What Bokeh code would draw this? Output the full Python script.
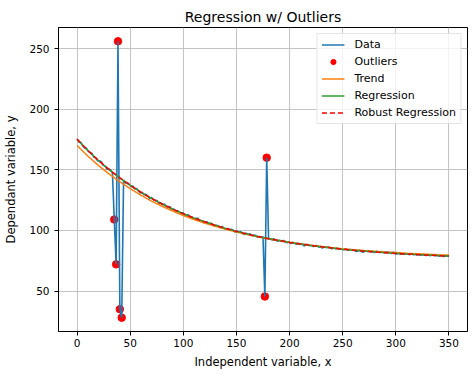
import numpy as np
from bokeh.plotting import figure
from bokeh.models import Legend, LegendItem, FixedTicker, Range1d
from bokeh.embed import file_html
from bokeh.resources import INLINE

# ---- data ----
x_data = np.linspace(0, 350, 201)
y_data = [
    175.3, 172.9, 172.5, 169.9,
    168.0, 167.9, 165.2, 164.4,
    163.5, 160.4, 159.9, 157.4,
    157.4, 156.7, 153.8, 153.2,
    150.5, 150.7, 150.0, 147.4,
    109.0, 72.0, 256.0, 35.0,
    28.0, 141.6, 139.1, 139.3,
    138.2, 136.1, 136.7, 134.4,
    134.5, 132.5, 130.9, 131.5,
    129.4, 129.7, 128.5, 126.3,
    127.3, 125.2, 124.9, 124.7,
    122.3, 122.8, 121.2, 121.9,
    119.4, 119.6, 119.5, 117.1,
    117.6, 115.4, 116.2, 115.3,
    114.1, 114.6, 112.6, 113.0,
    112.6, 110.8, 110.8, 109.2,
    109.9, 110.0, 107.7, 108.1,
    106.4, 107.1, 106.9, 105.4,
    106.1, 104.6, 103.5, 104.3,
    103.5, 102.2, 103.3, 101.7,
    100.9, 101.7, 100.5, 101.0,
    100.1, 98.5, 99.5, 98.5,
    99.0, 97.5, 96.5, 97.7,
    96.6, 97.3, 95.6, 96.0,
    95.9, 94.3, 95.1, 94.1,
    94.7, 45.5, 160.0, 92.8,
    93.2, 92.1, 93.1, 91.8,
    91.1, 91.9, 90.9, 91.6,
    90.9, 89.8, 90.7, 89.0,
    90.3, 89.3, 88.5, 89.4,
    88.4, 89.3, 87.1, 88.3,
    88.4, 87.4, 87.7, 86.7,
    87.4, 87.5, 86.2, 86.7,
    85.4, 86.6, 85.8, 86.3,
    85.8, 84.9, 85.6, 84.9,
    85.4, 84.5, 84.8, 84.1,
    84.2, 84.5, 83.7, 84.4,
    83.5, 83.8, 82.7, 82.9,
    83.6, 82.5, 82.1, 83.2,
    82.5, 83.1, 82.2, 82.8,
    81.6, 82.7, 82.2, 82.4,
    82.6, 81.6, 82.3, 82.1,
    82.0, 80.9, 82.0, 80.8,
    80.6, 81.1, 80.3, 80.8,
    80.3, 81.0, 80.3, 80.0,
    80.8, 79.9, 80.3, 79.6,
    80.3, 79.5, 80.2, 79.6,
    79.4, 79.8, 79.1, 79.8,
    79.2, 79.6, 79.2, 78.8,
    79.4, 78.5, 78.7, 79.1,
    78.8,
]

outlier_x = [35.0, 36.75, 38.5, 40.25, 42.0, 176.75, 178.5]
outlier_y = [109.0, 72.0, 256.0, 35.0, 28.0, 45.5, 160.0]

x_fit = np.arange(0, 351, 10)
trend = [170.0, 161.4, 153.7, 146.6, 140.2, 134.4, 129.1, 124.2, 119.9, 116.0,
         112.3, 109.0, 106.1, 103.4, 101.0, 98.7, 96.7, 94.8, 93.2, 91.6,
         90.2, 88.9, 87.8, 86.8, 85.8, 84.9, 84.1, 83.4, 82.8, 82.2,
         81.7, 81.2, 80.8, 80.4, 80.0, 79.7]
regression = [175.0, 165.9, 157.7, 150.2, 143.4, 137.2, 131.6, 126.4, 121.8, 117.6,
              113.7, 110.2, 107.1, 104.2, 101.6, 99.2, 97.0, 95.0, 93.3, 91.6,
              90.1, 88.8, 87.6, 86.5, 85.5, 84.5, 83.7, 83.0, 82.3, 81.6,
              81.1, 80.6, 80.1, 79.7, 79.3, 78.9]
robust = [175.3, 166.1, 157.8, 150.3, 143.5, 137.3, 131.6, 126.4, 121.8, 117.6,
          113.7, 110.2, 107.1, 104.2, 101.6, 99.2, 97.0, 95.0, 93.2, 91.6,
          90.1, 88.8, 87.6, 86.5, 85.5, 84.5, 83.7, 82.9, 82.2, 81.6,
          81.0, 80.5, 80.1, 79.6, 79.2, 78.8]

x_ticks = [0, 50, 100, 150, 200, 250, 300, 350]
y_ticks = [50, 100, 150, 200, 250]

FONT = "DejaVu Sans"

p = figure(
    width=470, height=375,
    x_range=Range1d(-17.5, 367.5), y_range=Range1d(16.6, 267.4),
    output_backend="svg", toolbar_location=None,
    min_border_left=58, min_border_right=3, min_border_top=27, min_border_bottom=44,
    title="Regression w/ Outliers",
)

p.title.align = "center"
p.title.text_font = FONT
p.title.text_font_size = "14px"
p.title.text_font_style = "normal"
p.title.text_color = "black"
p.title.standoff = 6

p.outline_line_color = "black"
p.outline_line_width = 1
p.outline_line_alpha = 1

for ax in (p.xaxis[0], p.yaxis[0]):
    ax.axis_line_color = "black"
    ax.major_tick_line_color = "black"
    ax.major_tick_in = 0
    ax.major_tick_out = 4
    ax.minor_tick_line_color = None
    ax.major_label_text_font = FONT
    ax.major_label_text_font_size = "10.5px"
    ax.major_label_text_color = "black"
    ax.axis_label_text_font = FONT
    ax.axis_label_text_font_size = "11.5px"
    ax.axis_label_text_font_style = "normal"
    ax.axis_label_text_color = "black"

p.xaxis.ticker = FixedTicker(ticks=x_ticks)
p.yaxis.ticker = FixedTicker(ticks=y_ticks)
p.xaxis.axis_label = "Independent variable, x"
p.yaxis.axis_label = "Dependant variable, y"
p.xaxis.major_label_standoff = 3
p.xaxis.axis_label_standoff = 5
p.yaxis.major_label_standoff = 5
p.yaxis.axis_label_standoff = 8

p.xgrid.ticker = FixedTicker(ticks=x_ticks)
p.ygrid.ticker = FixedTicker(ticks=y_ticks)
p.grid.grid_line_color = "#c4c4c4"
p.grid.grid_line_width = 1

# scatter below the lines (as in matplotlib)
r_out = p.scatter(outlier_x, outlier_y, size=7.5, color="red", line_color="red")
r_data = p.line(x_data, y_data, line_color="#1f77b4", line_width=1.6)
r_trend = p.line(x_fit, trend, line_color="#ff7f0e", line_width=1.5)
r_reg = p.line(x_fit, regression, line_color="#2ca02c", line_width=1.5)
r_rob = p.line(x_fit, robust, line_color="red", line_width=1.5, line_dash="5 3")

legend = Legend(items=[
    LegendItem(label="Data", renderers=[r_data]),
    LegendItem(label="Outliers", renderers=[r_out]),
    LegendItem(label="Trend", renderers=[r_trend]),
    LegendItem(label="Regression", renderers=[r_reg]),
    LegendItem(label="Robust Regression", renderers=[r_rob]),
], location="top_right")
legend.margin = 6
legend.padding = 4
legend.spacing = 4
legend.glyph_width = 23
legend.glyph_height = 13
legend.label_height = 13
legend.label_standoff = 10
legend.label_text_font = FONT
legend.label_text_font_size = "11px"
legend.label_text_color = "black"
legend.border_line_color = "#cccccc"
legend.border_line_width = 1
legend.background_fill_alpha = 0.8
p.add_layout(legend)

open("out.html", "w").write(file_html(p, INLINE))
